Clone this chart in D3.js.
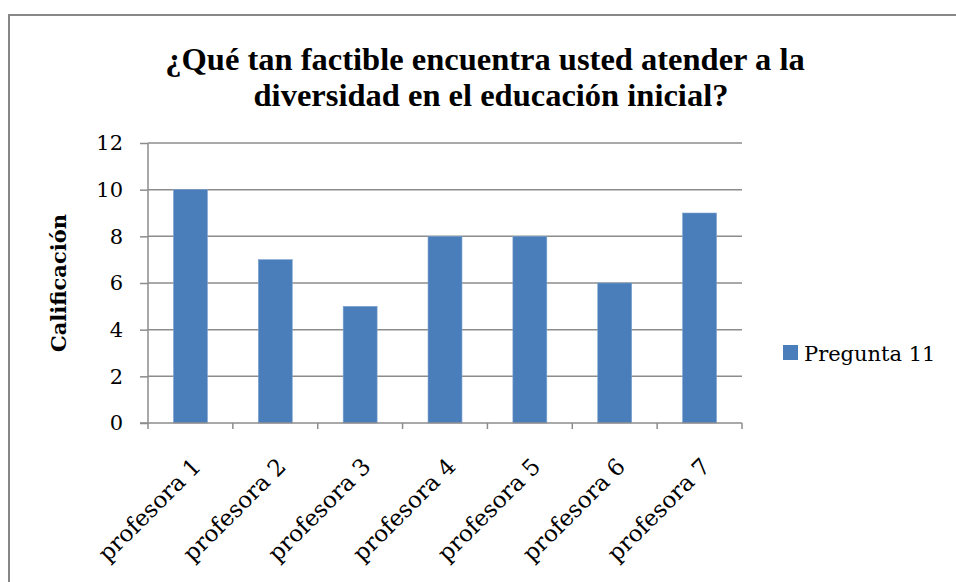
<!DOCTYPE html>
<html><head><meta charset="utf-8">
<script src="https://cdn.jsdelivr.net/npm/d3@7"></script>
<style>body{margin:0;background:#fff}svg{display:block}</style>
</head><body>
<svg id="c" width="956" height="582"></svg>
<script>
const categories = ["profesora 1","profesora 2","profesora 3","profesora 4","profesora 5","profesora 6","profesora 7"];
const values = [10,7,5,8,8,6,9];
const yTicks = [0,2,4,6,8,10,12];
const seriesName = "Pregunta 11";
const titleLines = ["¿Qué tan factible encuentra usted atender a la","diversidad en el educación inicial?"];
const yLabel = "Calificación";

const svg = d3.select("#c");
const serif = "'Liberation Serif','Times New Roman',serif";
const serif2 = "'DejaVu Serif',serif";
const L = 148, R = 742, T = 143, B = 423;

svg.append("rect").attr("x",9).attr("y",15).attr("width",960).attr("height",600)
  .attr("fill","#fff").attr("stroke","#878787").attr("stroke-width",2);

const x = d3.scaleBand().domain(categories).range([L,R]).paddingInner(0.6).paddingOuter(0.3);
const y = d3.scaleLinear().domain([0,12]).range([B,T]);

// gridlines
svg.append("g").selectAll("line").data(yTicks.filter(d=>d>0)).join("line")
  .attr("x1",L).attr("x2",R).attr("y1",d=>y(d)).attr("y2",d=>y(d))
  .attr("stroke","#8c8c8c").attr("stroke-width",1.5);

// bars
svg.append("g").selectAll("rect").data(values).join("rect")
  .attr("x",(d,i)=>x(categories[i])).attr("width",x.bandwidth())
  .attr("y",d=>y(d)).attr("height",d=>y(0)-y(d))
  .attr("fill","#4a7ebb").attr("stroke","#7fa3cf").attr("stroke-width",0.6);

// y axis
const ya = svg.append("g").attr("transform",`translate(${L},0)`)
  .call(d3.axisLeft(y).tickValues(yTicks).tickSize(8).tickPadding(17));
ya.select(".domain").attr("stroke","#8c8c8c").attr("stroke-width",1.5).attr("d",`M0,${T}V${B}`);
ya.selectAll(".tick line").attr("stroke","#8c8c8c").attr("stroke-width",1.5);
ya.selectAll("text").attr("font-family",serif2).attr("font-size",21).attr("fill","#000");

// x axis
const edges = d3.range(categories.length+1).map(i=>L+i*(R-L)/categories.length);
svg.append("line").attr("x1",L-8).attr("x2",R).attr("y1",B).attr("y2",B)
  .attr("stroke","#8c8c8c").attr("stroke-width",1.5);
svg.append("g").selectAll("line").data(edges).join("line")
  .attr("x1",d=>d).attr("x2",d=>d).attr("y1",B).attr("y2",B+6)
  .attr("stroke","#8c8c8c").attr("stroke-width",1.5);
svg.append("g").selectAll("text").data(categories).join("text")
  .attr("transform",d=>`translate(${x(d)+x.bandwidth()/2+12},${B+45}) rotate(-45)`)
  .attr("text-anchor","end").attr("font-family",serif2).attr("font-size",23).attr("fill","#000")
  .text(d=>d);

// title
svg.append("text").attr("text-anchor","middle").attr("font-family",serif)
  .attr("font-weight","bold").attr("font-size",32.5).attr("fill","#000")
  .selectAll("tspan").data(titleLines).join("tspan")
  .attr("x",(d,i)=> i===0 ? 485 : 491).attr("y",(d,i)=>70+i*36).text(d=>d);

// y label
svg.append("text").attr("transform",`translate(66,${(T+B)/2}) rotate(-90)`)
  .attr("text-anchor","middle").attr("font-family",serif2).attr("font-weight","bold")
  .attr("font-size",21).attr("fill","#000").text(yLabel);

// legend
svg.append("rect").attr("x",783).attr("y",345).attr("width",15).attr("height",15).attr("fill","#4a7ebb");
svg.append("text").attr("x",804).attr("y",361).attr("font-family",serif2).attr("font-size",21)
  .attr("fill","#000").text(seriesName);
</script>
</body></html>
